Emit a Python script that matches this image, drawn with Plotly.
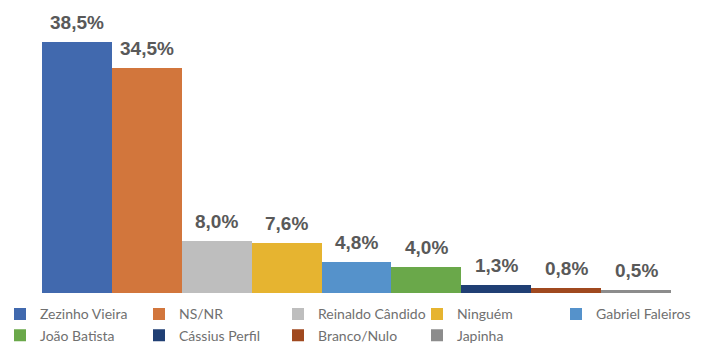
import plotly.graph_objects as go

candidates = ["Zezinho Vieira", "NS/NR", "Reinaldo Cândido", "Ninguém", "Gabriel Faleiros",
              "João Batista", "Cássius Perfil", "Branco/Nulo", "Japinha"]
values = [38.5, 34.5, 8.0, 7.6, 4.8, 4.0, 1.3, 0.8, 0.5]
labels = ["38,5%", "34,5%", "8,0%", "7,6%", "4,8%", "4,0%", "1,3%", "0,8%", "0,5%"]
colors = ["#4169AE", "#D2763C", "#BEBEBE", "#E6B430", "#5592CB", "#6AA84A", "#203F74", "#A0491F", "#8C8C8C"]

fig = go.Figure()
for name, v, c in zip(candidates, values, colors):
    fig.add_trace(go.Bar(x=[name], y=[v], name=name, marker=dict(color=c, line=dict(width=0))))

for name, v, lab in zip(candidates, values, labels):
    fig.add_annotation(x=name, y=v, text="<b>" + lab + "</b>", showarrow=False, yanchor="bottom", yshift=7,
                       font=dict(family="Liberation Sans", size=19, color="#595959"))

fig.update_layout(
    width=709, height=351,
    margin=dict(l=0, r=0, t=32, b=58),
    paper_bgcolor="white", plot_bgcolor="white",
    bargap=0, barmode="relative",
    xaxis=dict(visible=False, categoryorder="array", categoryarray=candidates, range=[-1.101, 9.044]),
    yaxis=dict(visible=False, range=[0, 40]),
    legend=dict(orientation="h", x=0.0, xanchor="left",
                y=0.15, yref="container", yanchor="top",
                entrywidth=94, entrywidthmode="pixels",
                font=dict(family="Lato, Noto Sans", size=14, color="#707070"),
                itemwidth=30, tracegroupgap=0),
    showlegend=True,
)

fig.write_html("out.html")
